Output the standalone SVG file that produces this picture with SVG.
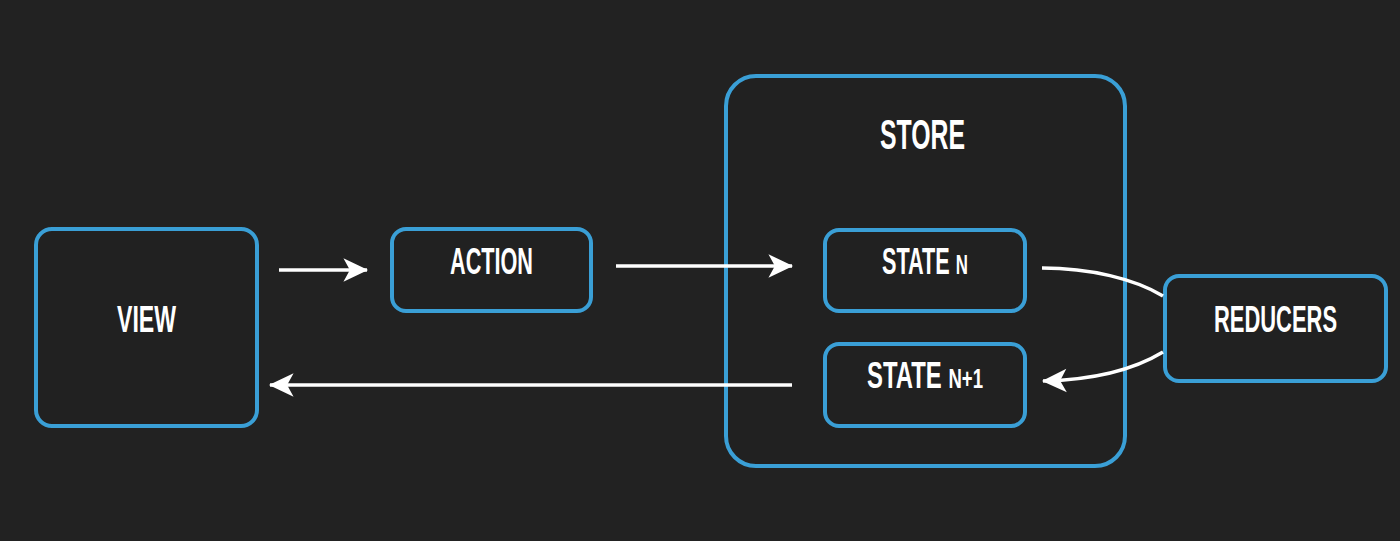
<svg xmlns="http://www.w3.org/2000/svg" width="1400" height="541" viewBox="0 0 1400 541">
<style>
.box{fill:#212121;stroke:#3a9fd6;stroke-width:4}
.lbl{font-family:"Liberation Sans","DejaVu Sans",sans-serif;font-weight:bold;fill:#ffffff;text-anchor:middle}
.sc{font-size:28px}
.con{fill:none;stroke:#ffffff;stroke-width:3.5}
</style>
<defs>
<marker id="ah" markerUnits="userSpaceOnUse" markerWidth="30" markerHeight="30" viewBox="-2 -12 28 24" refX="22" refY="0" orient="auto">
<path d="M0,-11 L23,0 L0,11 L6,0 Z" fill="#ffffff"/>
</marker>
</defs>
<rect width="1400" height="541" fill="#222222"/>
<g id="store">
<rect class="box" x="726" y="76" width="399" height="390" rx="30"/>
<text class="lbl" x="922.5" y="149" font-size="43" textLength="85" lengthAdjust="spacingAndGlyphs">STORE</text>
</g>
<g id="view">
<rect class="box" x="36" y="229" width="221" height="197" rx="16"/>
<text class="lbl" x="146.5" y="332" font-size="37" textLength="59" lengthAdjust="spacingAndGlyphs">VIEW</text>
</g>
<g id="action">
<rect class="box" x="392" y="229" width="199" height="82" rx="14"/>
<text class="lbl" x="491.5" y="274" font-size="37" textLength="83" lengthAdjust="spacingAndGlyphs">ACTION</text>
</g>
<g id="state-n">
<rect class="box" x="825" y="230" width="200" height="81" rx="14"/>
<text class="lbl" x="925" y="274" font-size="36" textLength="86" lengthAdjust="spacingAndGlyphs">STATE <tspan class="sc">N</tspan></text>
</g>
<g id="state-n1">
<rect class="box" x="825" y="344" width="200" height="82" rx="14"/>
<text class="lbl" x="925" y="388" font-size="36" textLength="116" lengthAdjust="spacingAndGlyphs">STATE <tspan class="sc">N+1</tspan></text>
</g>
<g id="reducers">
<rect class="box" x="1165" y="276" width="221" height="105" rx="14"/>
<text class="lbl" x="1275.5" y="332" font-size="37" textLength="123" lengthAdjust="spacingAndGlyphs">REDUCERS</text>
</g>
<g id="connectors">
<line class="con" x1="279" y1="270" x2="367" y2="270" marker-end="url(#ah)"/>
<line class="con" x1="616" y1="266" x2="792" y2="266" marker-end="url(#ah)"/>
<line class="con" x1="792" y1="385" x2="270" y2="385" marker-end="url(#ah)"/>
<path class="con" d="M1042,268 C1090,268 1135,279 1163,296"/>
<path class="con" d="M1163,352 C1130,372 1090,380 1043,381" marker-end="url(#ah)"/>
</g>
</svg>
